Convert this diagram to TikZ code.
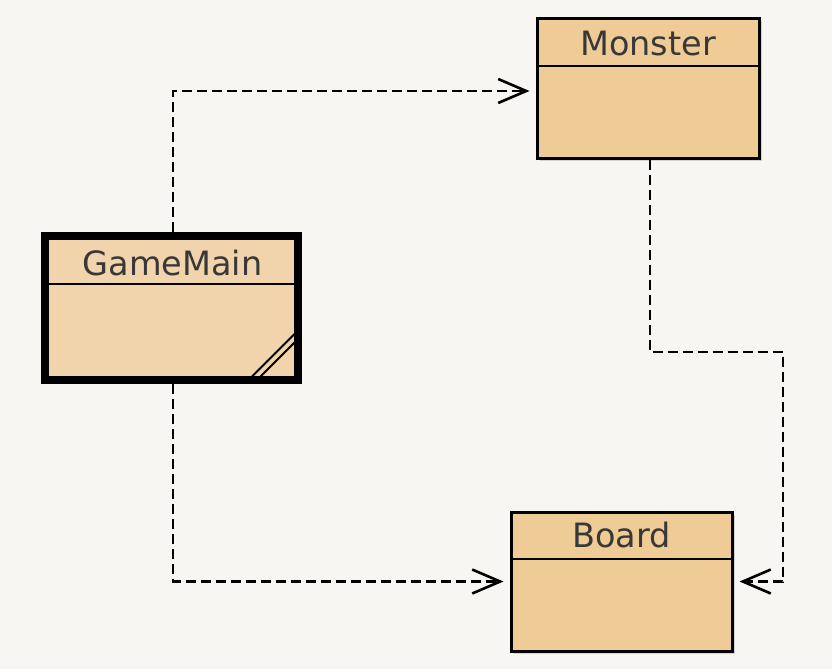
\documentclass[tikz,border=0pt]{standalone}
\usepackage{fontspec}
\setmainfont{DejaVu Sans}
\usetikzlibrary{arrows.meta,shadows}
\definecolor{bgcol}{HTML}{F7F6F2}
\definecolor{boxfill}{HTML}{EFCB95}
\definecolor{selfill}{HTML}{F1D4AB}
\definecolor{txtcol}{HTML}{383838}
\tikzset{
  classbox/.style={draw=black, line width=3pt, fill=boxfill, inner sep=0pt,
    drop shadow={shadow xshift=2.5pt, shadow yshift=-2.5pt, opacity=0.3}},
  selbox/.style={classbox, line width=8pt, fill=selfill},
  classtitle/.style={font=\fontsize{33.5}{36}\selectfont, text=txtcol, anchor=base, inner sep=0pt},
  headline/.style={draw=black, line width=2.8pt},
  dep/.style={draw=black, line width=2.6pt, dash pattern=on 10pt off 5pt,
    -{Straight Barb[length=28pt,width=24pt,line width=2.6pt]}, shorten >=6pt},
  hatch/.style={draw=black, line width=2pt}
}
\begin{document}
\begin{tikzpicture}[x=1pt,y=-1pt]
\fill[bgcol] (0,0) rectangle (832,669);
\useasboundingbox (0,0) rectangle (832,669);

% Monster
\node[classbox, minimum width=222pt, minimum height=139pt] (monster) at (648,88.5) {};
\draw[headline] (537,66) -- (759,66);
\node[classtitle] (monstert) at (648,56) {Monster};

% Board
\node[classbox, minimum width=221pt, minimum height=139pt] (board) at (621.5,581.5) {};
\draw[headline] (511,559) -- (732,559);
\node[classtitle] (boardt) at (621.5,547) {Board};

% GameMain
\node[selbox, minimum width=253pt, minimum height=144pt] (gm) at (171.5,308) {};
\draw[headline] (45,284) -- (298,284);
\node[classtitle] (gmt) at (172.5,275) {GameMain};
\draw[hatch] (252,376.5) -- (294.5,334);
\draw[hatch] (260.5,376.5) -- (294.5,342.5);

% connectors
\coordinate (top) at (173,91);
\coordinate (bend) at (783,352);
\draw[dep] ([xshift=1.5pt]gm.north) -- (top) -- (monster.west |- top);
\draw[dep] ([xshift=1.5pt]gm.south) |- (board.west);
\draw[dep] ([xshift=2pt]monster.south) |- (bend) |- (board.east);
\end{tikzpicture}
\end{document}
